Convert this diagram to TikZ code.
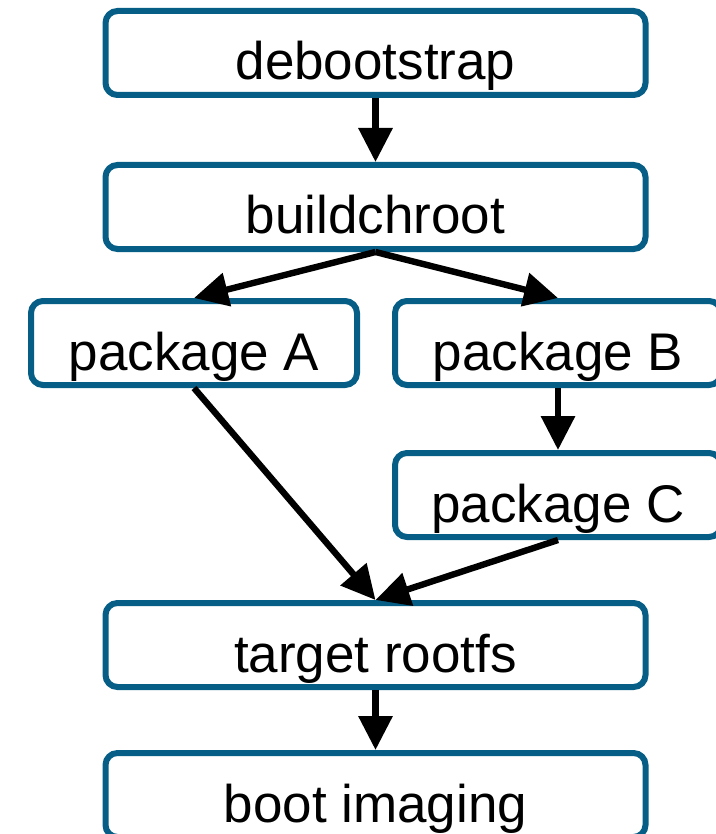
\documentclass[tikz,border=0pt]{standalone}
\usepackage{fontspec}
\setmainfont{Liberation Sans}
\usetikzlibrary{positioning, arrows.meta}
\definecolor{boxblue}{RGB}{6,94,134}
\tikzset{
  wide/.style={draw=boxblue, line width=3pt, fill=white, rounded corners=6pt, minimum width=270pt, minimum height=42pt, inner sep=0pt, text height=27pt, text depth=0pt, font=\fontsize{26.5}{30}\selectfont},
  narrow/.style={wide, minimum width=163pt},
  flow/.style={->, line width=3.2pt},
  >={Triangle[length=17pt, width=16.5pt]},
}

\begin{document}
\begin{tikzpicture}
    \useasboundingbox (0,0) rectangle (358pt,-417pt);
    \clip (0,0) rectangle (358pt,-417pt);
    \node[wide] (deboot) at (187.75pt,-26.5pt) {debootstrap};
    \node[wide, below=32pt of deboot] (build) {buildchroot};
    \node[narrow, below=23pt of build, xshift=-90.75pt] (pkga) {package A};
    \node[narrow, right=16pt of pkga] (pkgb) {package B};
    \node[narrow, below=31pt of pkgb] (pkgc) {package C};
    \node[wide, below=174pt of build] (target) {target rootfs};
    \node[wide, below=30pt of target] (boot) {boot imaging};
    \draw[flow] (deboot) -- (build);
    \draw[flow] (build.south) -- (pkga.north);
    \draw[flow] (build.south) -- (pkgb.north);
    \draw[flow] (pkgb) -- (pkgc);
    \draw[flow] (pkga.south) -- (target.north);
    \draw[flow] (pkgc.south) -- (target.north);
    \draw[flow] (target) -- (boot);
  \end{tikzpicture}
\end{document}
